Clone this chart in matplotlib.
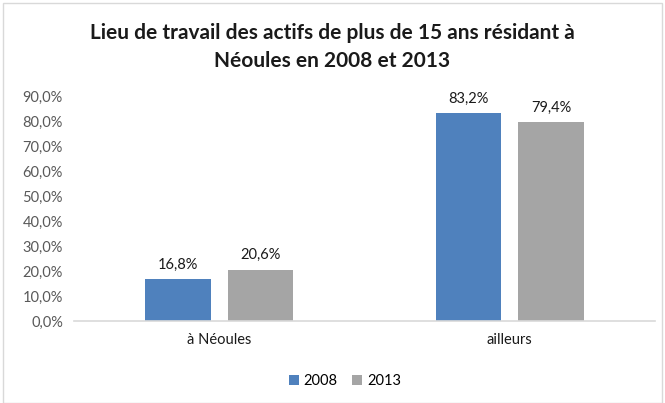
import numpy as np
import matplotlib.pyplot as plt
from matplotlib.patches import Rectangle

categories = ["à Néoules", "ailleurs"]
years = ["2008", "2013"]
v2008 = [16.8, 83.2]
v2013 = [20.6, 79.4]
colors = ["#4F81BD", "#A5A5A5"]

plt.rcParams['font.family'] = ['Lato', 'DejaVu Sans']

fig = plt.figure(figsize=(6.65, 4.03), dpi=100)
ax = fig.add_axes([74/665, 1-321/403, 581/665, 225/403])

x = np.arange(len(categories))
w = 0.224
off = 0.142
for vals, col, lab, d in [(v2008, colors[0], years[0], -off), (v2013, colors[1], years[1], off)]:
    bars = ax.bar(x + d, vals, w, color=col, label=lab)
    for b, v in zip(bars, vals):
        ax.text(b.get_x() + b.get_width()/2, v + 3, f"{v:.1f}%".replace('.', ','),
                ha='center', va='bottom', fontsize=10.5, color='#1a1a1a')

ax.set_xlim(-0.5, 1.5)
ax.set_ylim(0, 90)
ax.set_yticks(np.arange(0, 91, 10))
ax.set_yticklabels([f"{t:.1f}%".replace('.', ',') for t in np.arange(0, 91, 10)],
                   color='#595959', fontsize=10.5)
ax.set_xticks(x)
ax.set_xticklabels(categories, fontsize=10.5, color='#1a1a1a')
ax.tick_params(length=0, pad=9)
ax.tick_params(axis='y', pad=8)
for s in ['top', 'right', 'left']:
    ax.spines[s].set_visible(False)
ax.spines['bottom'].set_color('#d9d9d9')
ax.spines['bottom'].set_linewidth(1.2)

fig.text(0.5, 1-47/403, "Lieu de travail des actifs de plus de 15 ans résidant à\nNéoules en 2008 et 2013",
         ha='center', va='center', fontsize=15, fontweight='bold', color='#1a1a1a', linespacing=1.45)

fig.legend(loc='center', bbox_to_anchor=(345/665, 1-381/403), ncol=2, frameon=False,
           fontsize=10.5, handlelength=0.7, handleheight=0.7, columnspacing=1.0, handletextpad=0.3)

fig.patches.append(Rectangle((3/665, 0), 659/665, 1-3/403, transform=fig.transFigure,
                             fill=False, edgecolor='#d9d9d9', linewidth=1))

fig.savefig("out.png", dpi=100)
